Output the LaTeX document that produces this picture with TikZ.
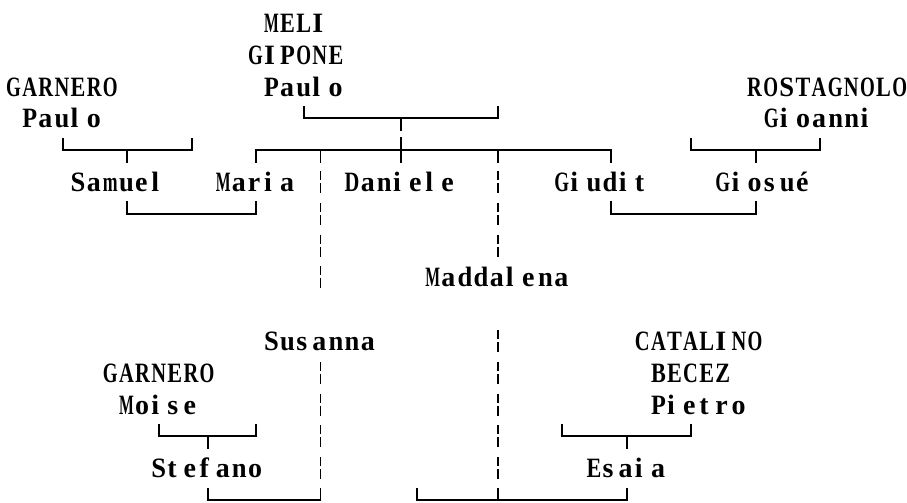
\documentclass[tikz,border=0pt]{standalone}
\usepackage{fontspec}
\setmainfont{Liberation Serif}
\usepackage{graphicx}
\newdimen\cw \cw=16.12pt
\newdimen\gmax \gmax=14.8pt
\def\mono#1{\monoloop#1\relax}
\def\monoglyph#1{\setbox0\hbox{#1}\ifdim\wd0>\gmax\resizebox{\gmax}{\ht0}{#1}\else\box0\fi}
\def\monoloop#1{\ifx\relax#1\else\hbox to\cw{\monoglyph{#1}\hss}\expandafter\monoloop\fi}
\tikzset{
  person/.style={inner sep=0pt, outer sep=0pt, anchor=base west, font=\fontsize{28}{28}\selectfont\bfseries},
  conn/.style={line width=1.9pt},
  dline/.style={line width=1.9pt, dash pattern=on 9pt off 3pt on 10pt off 9.8pt}
}
\begin{document}
\begin{tikzpicture}[x=16.12pt, y=-31.8pt]
\useasboundingbox (-0.3846,-0.7233) rectangle (55.881,15.063);
% names
\node[person] (meli)  at (16,0.3) {\mono{MELI}};
\node[person] (gipone) at (15,1.3) {\mono{GIPONE}};
\node[person] (paulom) at (16,2.3) {\mono{Paulo}};
\node[person] (garnero) at (0,2.3) {\mono{GARNERO}};
\node[person] (paulog) at (1,3.3) {\mono{Paulo}};
\node[person] (rost) at (45.97,2.3) {\mono{ROSTAGNOLO}};
\node[person] (gioanni) at (47,3.3) {\mono{Gioanni}};
\node[person] (samuel) at (4,5.3) {\mono{Samuel}};
\node[person] (maria) at (13,5.3) {\mono{Maria}};
\node[person] (daniele) at (21,5.3) {\mono{Daniele}};
\node[person] (giudit) at (34,5.3) {\mono{Giudit}};
\node[person] (giosue) at (44,5.3) {\mono{Giosué}};
\node[person] (madd) at (26,8.3) {\mono{Maddalena}};
\node[person] (susanna) at (16,10.3) {\mono{Susanna}};
\node[person] (catal) at (39,10.3) {\mono{CATALINO}};
\node[person] (garnero2) at (6,11.3) {\mono{GARNERO}};
\node[person] (becez) at (40,11.3) {\mono{BECEZ}};
\node[person] (moise) at (7,12.3) {\mono{Moise}};
\node[person] (pietro) at (40,12.3) {\mono{Pietro}};
\node[person] (stefano) at (9,14.3) {\mono{Stefano}};
\node[person] (esaia) at (36,14.3) {\mono{Esaia}};
% junction coordinates
\coordinate (mA) at (18.5,3); \coordinate (mB) at (30.5,3); \coordinate (mT) at (24.5,3);
\coordinate (gA) at (3.5,4); \coordinate (gB) at (11.5,4); \coordinate (gT) at (7.5,4);
\coordinate (cA) at (15.5,4); \coordinate (cB) at (37.5,4);
\coordinate (cS) at (19.5,4); \coordinate (cD) at (24.5,4); \coordinate (cM) at (30.5,4);
\coordinate (rA) at (42.5,4); \coordinate (rB) at (50.5,4); \coordinate (rT) at (46.5,4);
\coordinate (smA) at (7.5,6); \coordinate (smB) at (15.5,6);
\coordinate (ggA) at (37.5,6); \coordinate (ggB) at (46.5,6);
\coordinate (moA) at (9.5,13); \coordinate (moB) at (15.5,13); \coordinate (moT) at (12.5,13);
\coordinate (pA) at (34.5,13); \coordinate (pB) at (42.5,13); \coordinate (pT) at (38.5,13);
\coordinate (sA) at (12.5,15); \coordinate (sB) at (19.5,15);
\coordinate (eA) at (25.5,15); \coordinate (eB) at (38.5,15); \coordinate (eM) at (30.5,15);
% parents brackets
\draw[conn] ([yshift=12pt]mA) -- (mA) -- (mB) -- ([yshift=12pt]mB);
\draw[conn] (mT) -- ([yshift=-13pt]mT);
\draw[conn] ([yshift=12pt]gA) -- (gA) -- (gB) -- ([yshift=12pt]gB);
\draw[conn] (gT) -- ([yshift=-13pt]gT);
\draw[conn] ([yshift=12pt]rA) -- (rA) -- (rB) -- ([yshift=12pt]rB);
\draw[conn] (rT) -- ([yshift=-13pt]rT);
% children line
\draw[conn] ([yshift=-13pt]cA) -- (cA) -- (cB) -- ([yshift=-13pt]cB);
\draw[conn] (cS) -- ([yshift=-13pt]cS);
\draw[conn] ([yshift=13pt]cD) -- ([yshift=-13pt]cD);
\draw[conn] (cM) -- ([yshift=-13pt]cM);
% marriages
\draw[conn] ([yshift=13pt]smA) -- (smA) -- (smB) -- ([yshift=13pt]smB);
\draw[conn] ([yshift=13pt]ggA) -- (ggA) -- (ggB) -- ([yshift=13pt]ggB);
\draw[conn] ([yshift=12pt]moA) -- (moA) -- (moB) -- ([yshift=12pt]moB);
\draw[conn] (moT) -- ([yshift=-13pt]moT);
\draw[conn] ([yshift=12pt]pA) -- (pA) -- (pB) -- ([yshift=12pt]pB);
\draw[conn] (pT) -- ([yshift=-13pt]pT);
\draw[conn] ([yshift=12pt]sA) -- (sA) -- (sB) -- ([yshift=12pt]sB);
\draw[conn] ([yshift=12pt]eA) -- (eA) -- (eB) -- ([yshift=12pt]eB);
\draw[conn] (eM) -- ([yshift=12pt]eM);
% dashed descent lines
\draw[dline] (19.5,4.654) -- (19.5,8.346);
\draw[dline] (19.5,10.654) -- (19.5,14.346);
\draw[dline] (30.5,4.654) -- (30.5,7.346);
\draw[dline] (30.5,9.654) -- (30.5,14.346);
\end{tikzpicture}
\end{document}
